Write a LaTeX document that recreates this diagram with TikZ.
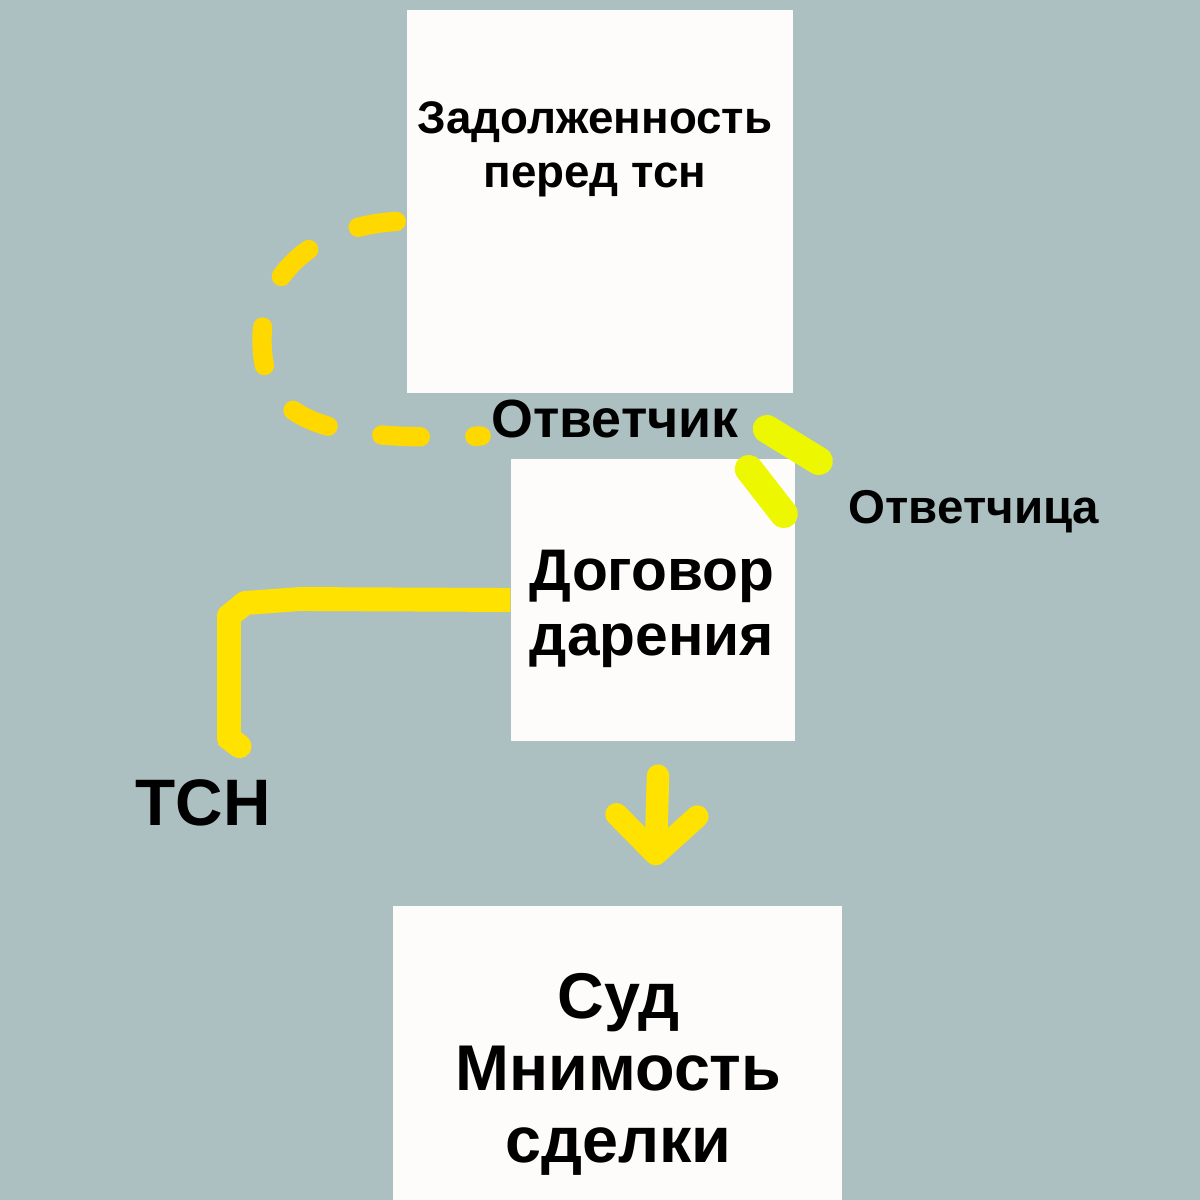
\documentclass[tikz,border=0pt]{standalone}
\usepackage{fontspec}
\setmainfont{Liberation Sans}
\usetikzlibrary{arrows.meta,positioning,calc}
\definecolor{tsnbg}{RGB}{173,192,193}
\definecolor{sheetwhite}{RGB}{253,252,250}
\definecolor{markyellow}{RGB}{255,216,0}
\definecolor{lineyellow}{RGB}{255,226,0}
\definecolor{limeyellow}{RGB}{236,247,0}
\begin{document}
\begin{tikzpicture}[x=0.1mm, y=-0.1mm,
  sheet/.style={fill=sheetwhite, inner sep=0pt},
  word/.style={text=black, align=center, inner sep=1pt},
  loopdash/.style={draw=markyellow, line width=5.5pt, line cap=round, dash pattern=on 11pt off 15.5pt},
  tsnline/.style={draw=lineyellow, line width=6.8pt, line join=round},
  scribble/.style={draw=limeyellow, line width=8pt, line cap=round},
  bigarrow/.style={draw=lineyellow, line width=6.4pt, line cap=round, -{Straight Barb[round, length=11pt, width=23pt]}}]
\fill[tsnbg] (0,0) rectangle (1200,1200);
\useasboundingbox (0,0) rectangle (1200,1200);

\node[sheet, minimum width=38.6mm, minimum height=38.3mm] (zadolzh) at (600,201.5) {};
\node[sheet, minimum width=28.4mm, minimum height=28.2mm] (dogovor) at (653,600) {};
\node[sheet, minimum width=44.9mm, minimum height=29.4mm] (sud) at (617.5,1053) {};

\node[word, font=\bfseries\fontsize{13}{15.3}\selectfont] (zadolzhtext) at ($(zadolzh.north)+(-5,140)$) {Задолженность\\перед тсн};
\node[word, font=\bfseries\fontsize{16.7}{18.5}\selectfont] (dogovortext) at ($(dogovor.center)+(-1,9)$) {Договор\\дарения};
\node[word, font=\bfseries\fontsize{18.4}{20.5}\selectfont] (sudtext) at ($(sud.center)+(1,21)$) {Суд\\Мнимость\\сделки};
\node[word, font=\bfseries\fontsize{15.3}{17}\selectfont] (otvetchik) at (615,419) {Ответчик};
\node[word, font=\bfseries\fontsize{13.5}{16}\selectfont] (otvetchitsa) at (974,512) {Ответчица};
\node[word, font=\bfseries\fontsize{18.7}{22}\selectfont] (tsn) at (203,803) {ТСН};

\draw[loopdash] ($(zadolzh.west)+(-10,20)$) .. controls (330,225) and (262,262) .. (262,340) .. controls (262,420) and (320,442) .. ($(otvetchik.west)+(-6,17)$);
\draw[scribble] ($(otvetchik.east)+(24,10)$) -- ($(otvetchik.east)+(76,42)$);
\draw[scribble] ($(otvetchik.east)+(6,50)$) -- ($(otvetchik.east)+(41,95)$);
\draw[tsnline, -{Round Cap[]}] (dogovor.west) -- (300,599) -- (245,603) -- (229,616) -- (229,738) -- ($(tsn.north)+(46,-22)$);
\draw[bigarrow] ($(dogovor.south)+(5,34)$) -- ($(sud.north)+(38,-40)$);
\end{tikzpicture}
\end{document}
